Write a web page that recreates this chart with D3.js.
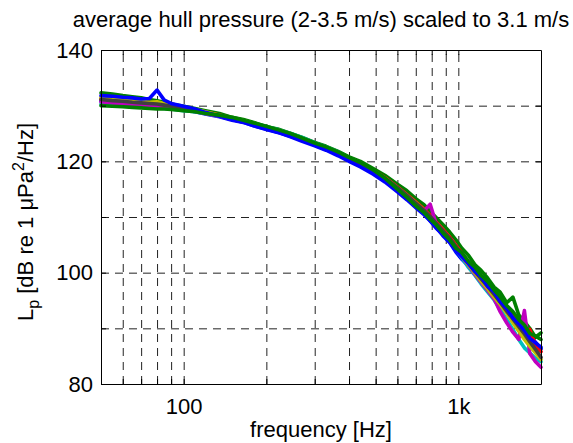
<!DOCTYPE html>
<html>
<head>
<meta charset="utf-8">
<title>average hull pressure</title>

<style type="text/css">
	body {
		margin: 0;
		background: white;
	}

	#chart text {
		font-family: "Liberation Sans", Arial, Helvetica, sans-serif;
		font-size: 22px;
		fill: black;
	}

	.grid line {
		stroke: #222;
		stroke-width: 1px;
		stroke-dasharray: 8,6;
	}

	.axis path, .axis line {
		stroke: black;
		stroke-width: 1px;
	}

	.spec {
		fill: none;
		stroke-width: 3.6px;
		stroke-linejoin: round;
		stroke-linecap: round;
	}
</style>

</head>
<body>

<svg id="chart" width="573" height="443"></svg>

<script src="https://cdn.jsdelivr.net/npm/d3@7"></script>
<script>

// frequency points [Hz]
var freq = [50, 55, 60, 65, 70, 75, 80, 85, 90, 100,
	110, 120, 135, 150, 165, 180, 200, 220, 245, 270,
	300, 330, 365, 400, 440, 490, 540, 600, 650, 700,
	750, 790, 830, 880, 930, 980, 1030, 1090, 1150, 1210,
	1280, 1350, 1420, 1500, 1580, 1660, 1740, 1820, 1910, 2000];

// levels [dB re 1 uPa^2/Hz]
var blueB = [130.8, 130.7, 130.5, 130.4, 130.3, 130.2, 130.1, 129.9, 129.7, 129.3,
	128.9, 128.5, 128.0, 127.4, 127.0, 126.4, 125.8, 125.2, 124.5, 123.8,
	122.9, 122.1, 121.2, 120.1, 119.2, 117.9, 116.6, 114.8, 113.2, 111.9,
	110.6, 109.3, 108.2, 106.6, 105.4, 103.7, 102.4, 101.2, 100.0, 98.9,
	97.8, 96.0, 95.4, 93.5, 92.5, 91.2, 89.9, 88.9, 87.5, 86.3];

var greenA = [132.3, 132.1, 131.8, 131.6, 131.4, 131.1, 130.9, 130.6, 130.3, 129.9,
	129.5, 129.1, 128.6, 127.9, 127.5, 127.0, 126.2, 125.8, 125.0, 124.3,
	123.4, 122.7, 121.8, 120.8, 120.0, 118.7, 117.5, 115.9, 114.7, 113.3,
	112.2, 111.0, 109.9, 108.6, 107.3, 105.9, 104.4, 103.1, 101.4, 100.4,
	99.0, 97.4, 96.5, 94.6, 95.6, 92.4, 91.2, 90.0, 88.4, 89.2];

var red = [131.2, 131.0, 130.9, 130.7, 130.6, 130.4, 130.3, 130.1, 129.9, 129.6,
	129.2, 128.8, 128.3, 127.8, 127.3, 126.8, 126.1, 125.6, 124.9, 124.1,
	123.2, 122.5, 121.6, 120.6, 119.7, 118.4, 117.1, 115.4, 114.0, 112.7,
	111.4, 110.3, 109.1, 107.7, 106.4, 104.9, 103.5, 101.8, 100.6, 99.1,
	97.8, 96.3, 95.1, 93.4, 92.1, 90.9, 89.4, 89.8, 87.0, 85.8];

var cyan = [130.3, 130.2, 130.0, 129.9, 129.8, 129.7, 129.6, 129.5, 129.4, 129.1,
	128.9, 128.6, 128.1, 127.7, 127.3, 126.8, 126.2, 125.7, 125.0, 124.3,
	123.3, 122.6, 121.7, 120.6, 119.7, 118.3, 116.9, 115.1, 113.7, 112.3,
	110.9, 109.8, 108.5, 107.0, 105.7, 104.1, 102.7, 100.9, 99.5, 98.0,
	96.5, 95.1, 93.4, 91.6, 89.8, 88.0, 86.5, 85.6, 84.6, 84.0];

var magenta = [130.7, 130.5, 130.3, 130.2, 130.0, 130.0, 129.9, 129.8, 129.6, 129.3,
	129.0, 128.6, 128.1, 127.6, 127.1, 126.6, 125.9, 125.4, 124.7, 123.9,
	123.0, 122.3, 121.4, 120.4, 119.5, 118.2, 116.9, 115.2, 113.7, 112.4,
	111.1, 112.3, 108.8, 107.4, 105.9, 104.5, 102.9, 101.3, 99.7, 98.3,
	96.8, 95.3, 93.0, 91.0, 89.3, 88.0, 93.2, 85.5, 84.0, 83.0];

var yellow = [131.5, 131.3, 131.1, 130.9, 130.8, 130.6, 130.7, 130.4, 130.1, 129.7,
	129.3, 128.9, 128.3, 127.8, 127.3, 126.8, 126.0, 125.6, 124.9, 124.0,
	123.1, 122.4, 121.5, 120.5, 119.6, 118.3, 117.0, 115.3, 113.9, 112.6,
	111.2, 110.0, 108.8, 107.4, 106.0, 104.5, 103.0, 101.4, 99.9, 98.5,
	97.1, 95.6, 94.3, 92.7, 91.0, 89.5, 88.0, 86.8, 85.6, 84.4];

var gray = [131.1, 130.9, 130.8, 130.6, 130.5, 130.4, 130.3, 130.1, 129.9, 129.5,
	129.1, 128.7, 128.2, 127.7, 127.2, 126.7, 126.0, 125.5, 124.8, 124.0,
	123.1, 122.4, 121.5, 120.5, 119.6, 118.3, 117.0, 115.3, 113.9, 112.5,
	111.2, 110.1, 108.9, 107.5, 106.2, 104.7, 103.2, 101.7, 100.2, 98.9,
	97.5, 96.1, 94.7, 93.1, 91.7, 90.3, 89.0, 87.6, 86.2, 84.8];

var blueA = [131.8, 131.7, 131.5, 131.4, 131.2, 131.3, 132.8, 131.0, 130.4, 129.9,
	129.4, 128.8, 128.1, 127.5, 127.0, 126.4, 125.7, 125.2, 124.4, 123.6,
	122.8, 122.0, 121.0, 120.0, 119.0, 117.7, 116.3, 114.5, 113.1, 111.7,
	110.4, 109.3, 108.0, 106.8, 105.5, 104.0, 102.9, 101.6, 100.2, 99.3,
	97.5, 96.6, 94.8, 93.6, 91.9, 90.8, 89.6, 88.2, 87.4, 86.6];

var greenB = [130.0, 129.9, 129.8, 129.7, 129.6, 129.5, 129.4, 129.4, 129.3, 129.1,
	128.9, 128.6, 128.3, 127.9, 127.4, 126.9, 126.3, 125.7, 125.0, 124.2,
	123.3, 122.6, 121.7, 120.7, 119.8, 118.5, 117.0, 115.0, 113.5, 112.0,
	110.8, 109.6, 108.6, 107.1, 105.9, 104.4, 103.6, 102.0, 101.0, 99.5,
	98.4, 96.9, 95.7, 94.1, 93.0, 91.6, 90.6, 89.1, 88.6, 88.0];

// drawing order, last one ends up on top
var series = [blueB, greenA, red, cyan, magenta, yellow, gray, blueA, greenB];
var seriesColors = ['#0000ff', '#008000', '#ff0000', '#00bfbf', '#bf00bf', '#bfbf00', '#404040', '#0000ff', '#008000'];

var xTicks = [60, 70, 80, 90, 100, 200, 300, 400, 500, 600, 700, 800, 900, 1000];
var xTickLabels = {100: '100', 1000: '1k'};
var yTicks = [80, 90, 100, 110, 120, 130, 140];
var yTickLabels = {80: '80', 100: '100', 120: '120', 140: '140'};

var titleText = 'average hull pressure (2-3.5 m/s) scaled to 3.1 m/s';
var xLabelText = 'frequency [Hz]';

// plot box in pixels (note: "top" is taken by window.top)
var boxLeft = 101, boxRight = 541, boxTop = 50, boxBottom = 384;

var svg = d3.select('#chart');

var x = d3.scaleLog().domain([50, 2000]).range([boxLeft, boxRight]);
var y = d3.scaleLinear().domain([80, 140]).range([boxBottom, boxTop]);

// dashed grid, behind the curves
svg.append('g')
	.classed('grid', true)
	.attr('transform', 'translate(0,' + boxBottom + ')')
	.call(d3.axisBottom(x).tickValues(xTicks).tickSize(-(boxBottom - boxTop)).tickFormat(''))
	.call(function(g) { g.select('.domain').remove(); });

svg.append('g')
	.classed('grid', true)
	.attr('transform', 'translate(' + boxLeft + ',0)')
	.call(d3.axisLeft(y).tickValues(yTicks.slice(1, -1)).tickSize(-(boxRight - boxLeft)).tickFormat(''))
	.call(function(g) { g.select('.domain').remove(); });

// spectra
var line = d3.line()
	.x(function(d, i) { return x(freq[i]); })
	.y(function(d) { return y(d); });

svg.append('g')
	.selectAll('path')
	.data(series)
	.enter()
	.append('path')
	.classed('spec', true)
	.attr('stroke', function(d, i) { return seriesColors[i]; })
	.attr('d', line);

// box with inward ticks
svg.append('g')
	.classed('axis', true)
	.attr('transform', 'translate(0,' + boxBottom + ')')
	.call(d3.axisBottom(x).tickValues(xTicks).tickSize(-5).tickSizeOuter(0).tickPadding(14)
		.tickFormat(function(d) { return xTickLabels[d] || ''; }));

svg.append('g')
	.classed('axis', true)
	.attr('transform', 'translate(0,' + boxTop + ')')
	.call(d3.axisTop(x).tickValues(xTicks).tickSize(-5).tickSizeOuter(0).tickFormat(''));

svg.append('g')
	.classed('axis', true)
	.attr('transform', 'translate(' + boxLeft + ',0)')
	.call(d3.axisLeft(y).tickValues(yTicks).tickSize(-5).tickSizeOuter(0).tickPadding(8)
		.tickFormat(function(d) { return yTickLabels[d] || ''; }));

svg.append('g')
	.classed('axis', true)
	.attr('transform', 'translate(' + boxRight + ',0)')
	.call(d3.axisRight(y).tickValues(yTicks).tickSize(-5).tickSizeOuter(0).tickFormat(''));

// labels
svg.append('text')
	.attr('x', (boxLeft + boxRight) / 2)
	.attr('y', 27)
	.attr('text-anchor', 'middle')
	.text(titleText);

svg.append('text')
	.attr('x', (boxLeft + boxRight) / 2)
	.attr('y', 437)
	.attr('text-anchor', 'middle')
	.text(xLabelText);

var yLabel = svg.append('text')
	.attr('transform', 'translate(33,222) rotate(-90)')
	.attr('text-anchor', 'middle');
yLabel.append('tspan').text('L');
yLabel.append('tspan').attr('dy', 6).style('font-size', '16px').text('p');
yLabel.append('tspan').attr('dy', -6).text(' [dB re 1 \u03bcPa');
yLabel.append('tspan').attr('dy', -9).style('font-size', '16px').text('2');
yLabel.append('tspan').attr('dy', 9).text('/Hz]');

</script>

</body>
</html>
